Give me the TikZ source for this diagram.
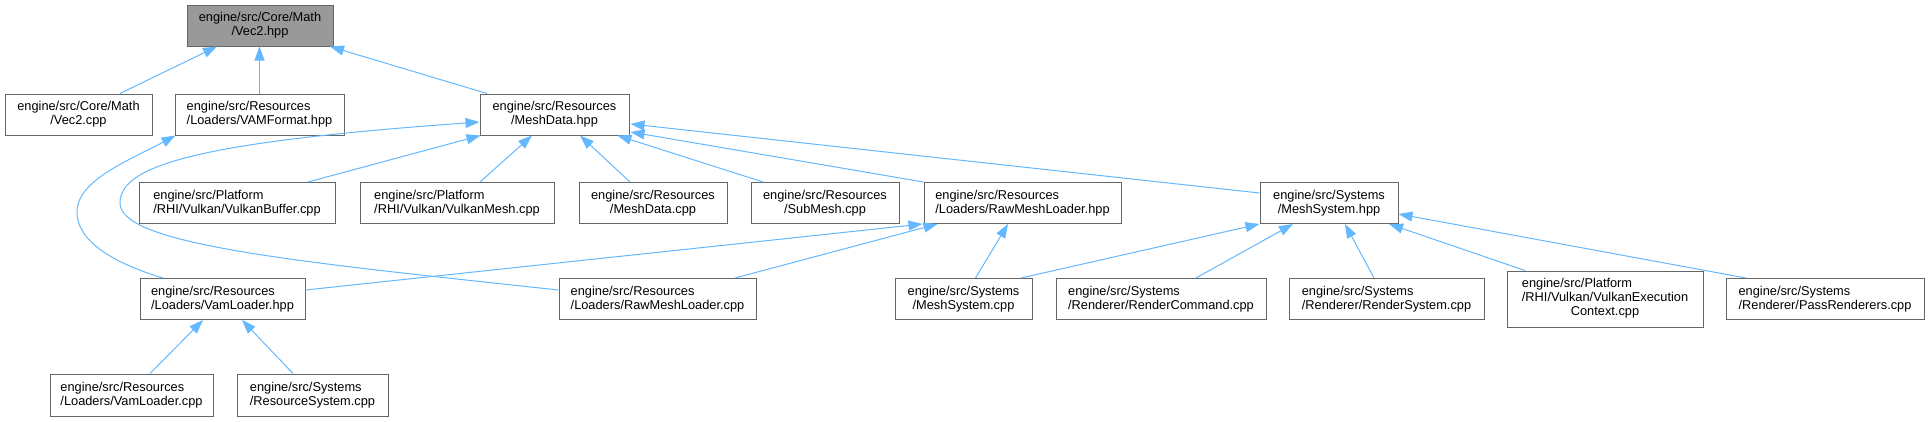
\documentclass[tikz,border=0pt]{standalone}
\usepackage{fontspec}
\setmainfont{Liberation Sans}
\usetikzlibrary{calc,arrows.meta}
\definecolor{boxgray}{HTML}{666666}
\definecolor{rootfill}{HTML}{999999}
\definecolor{edgeblue}{HTML}{63B8FF}
\begin{document}
\begin{tikzpicture}[x=0.75pt,y=-0.75pt,
  box/.style={draw=boxgray, fill=white, line width=0.75pt, inner sep=0pt,
    font=\fontsize{9.6}{10.5}\selectfont, minimum height=30.75pt},
  lbox/.style={box, align=left},
  cbox/.style={box, align=center},
  edge/.style={draw=edgeblue, line width=0.75pt,
    -{Triangle[length=10.5pt,width=7.5pt,fill=edgeblue]}}]
\useasboundingbox (0,0) rectangle (1929,421);
% row 1
\node[cbox, fill=rootfill, minimum width=109.5pt] (vec2hpp) at (260,25.5) {engine/src/Core/Math\\/Vec2.hpp};
% row 2
\node[cbox, minimum width=110.25pt] (vec2cpp) at (78.5,114.5) {engine/src/Core/Math\\/Vec2.cpp};
\node[lbox, minimum width=126.75pt] (vamfmt) at (259.5,114.5) {engine/src/Resources\\/Loaders/VAMFormat.hpp};
\node[cbox, minimum width=111.75pt] (mdhpp) at (554.5,114.5) {engine/src/Resources\\/MeshData.hpp};
% row 3
\node[lbox, minimum width=147pt] (vkbuf) at (237,203) {engine/src/Platform\\/RHI/Vulkan/VulkanBuffer.cpp};
\node[lbox, minimum width=145.5pt] (vkmesh) at (457,203) {engine/src/Platform\\/RHI/Vulkan/VulkanMesh.cpp};
\node[cbox, minimum width=111pt] (mdcpp) at (653,203) {engine/src/Resources\\/MeshData.cpp};
\node[cbox, minimum width=111pt] (submesh) at (825,203) {engine/src/Resources\\/SubMesh.cpp};
\node[lbox, minimum width=147.75pt] (rawhpp) at (1022.5,203) {engine/src/Resources\\/Loaders/RawMeshLoader.hpp};
\node[cbox, minimum width=103.5pt] (mshpp) at (1329,203) {engine/src/Systems\\/MeshSystem.hpp};
% row 4
\node[lbox, minimum width=123.75pt] (vamldhpp) at (222.5,299) {engine/src/Resources\\/Loaders/VamLoader.hpp};
\node[lbox, minimum width=147.75pt] (rawcpp) at (657.5,299) {engine/src/Resources\\/Loaders/RawMeshLoader.cpp};
\node[cbox, minimum width=102.75pt] (mscpp) at (963.5,299) {engine/src/Systems\\/MeshSystem.cpp};
\node[lbox, minimum width=157.5pt] (rcmd) at (1161,299) {engine/src/Systems\\/Renderer/RenderCommand.cpp};
\node[lbox, minimum width=146.25pt] (rsys) at (1386.5,299) {engine/src/Systems\\/Renderer/RenderSystem.cpp};
\node[box, minimum width=147pt, minimum height=42pt] (vkexec) at (1605,299)
  {\begin{tabular}{@{}l@{}}engine/src/Platform\\/RHI/Vulkan/VulkanExecution\\\multicolumn{1}{@{}c@{}}{Context.cpp}\end{tabular}};
\node[lbox, minimum width=148.5pt] (pass) at (1825,299) {engine/src/Systems\\/Renderer/PassRenderers.cpp};
% row 5
\node[lbox, minimum width=122.25pt, minimum height=31.5pt] (vamldcpp) at (131.5,395) {engine/src/Resources\\/Loaders/VamLoader.cpp};
\node[lbox, minimum width=113.25pt, minimum height=31.5pt] (ressys) at (312.5,395) {engine/src/Systems\\/ResourceSystem.cpp};
% edges
\draw[edge] ($(vec2cpp.north)+(41.5,0)$) -- ($(vec2hpp.south)+(-43,0)$);
\draw[edge] (vamfmt.north) -- (vamfmt.north |- vec2hpp.south);
\draw[edge] ($(mdhpp.north)+(-67.5,0)$) -- ($(vec2hpp.south)+(70,0)$);
\draw[edge] ($(vamldhpp.north)+(-59.5,0)$) .. controls (110,262) and (77,240) .. (77,212)
  .. controls (77,180) and (130,160) .. ($(vamfmt.south west)+(1,0)$);
\draw[edge] ($(rawcpp.west)+(0,-9)$) .. controls (300,262) and (120,245) .. (120,203)
  .. controls (120,165) and (200,142) .. ($(mdhpp.west)+(0,7.5)$);
\draw[edge] ($(vkbuf.north)+(71,0)$) -- ($(mdhpp.south west)+(1,0)$);
\draw[edge] ($(vkmesh.north)+(23,0)$) -- ($(mdhpp.south)+(-22.5,0)$);
\draw[edge] ($(mdcpp.north)+(-23,0)$) -- ($(mdhpp.south)+(25.5,0)$);
\draw[edge] ($(submesh.north)+(-62,0)$) -- ($(mdhpp.south)+(63,0)$);
\draw[edge] (rawhpp.north west) -- ($(mdhpp.east)+(1,17.5)$);
\draw[edge] ($(mshpp.west)+(0,-10)$) -- ($(mdhpp.east)+(1,9.5)$);
\draw[edge] ($(vamldhpp.east)+(0,-9)$) -- ($(rawhpp.south west)+(-1,0)$);
\draw[edge] ($(rawcpp.north)+(77.5,0)$) -- ($(rawhpp.south west)+(14,0)$);
\draw[edge] ($(mscpp.north)+(12,0)$) -- ($(rawhpp.south)+(-14.5,0)$);
\draw[edge] ($(mscpp.north)+(57.5,0)$) -- (mshpp.south west);
\draw[edge] ($(rcmd.north)+(35,0)$) -- ($(mshpp.south)+(-36,0)$);
\draw[edge] ($(rsys.north)+(-12.5,0)$) -- ($(mshpp.south)+(16,0)$);
\draw[edge] ($(vkexec.north)+(-80,0)$) -- ($(mshpp.south)+(60,0)$);
\draw[edge] ($(pass.north)+(-79,0)$) -- ($(mshpp.east)+(0,11)$);
\draw[edge] ($(vamldcpp.north)+(18.5,0)$) -- ($(vamldhpp.south)+(-19.5,0)$);
\draw[edge] ($(ressys.north)+(-19.5,0)$) -- ($(vamldhpp.south)+(19.5,0)$);
\end{tikzpicture}
\end{document}
